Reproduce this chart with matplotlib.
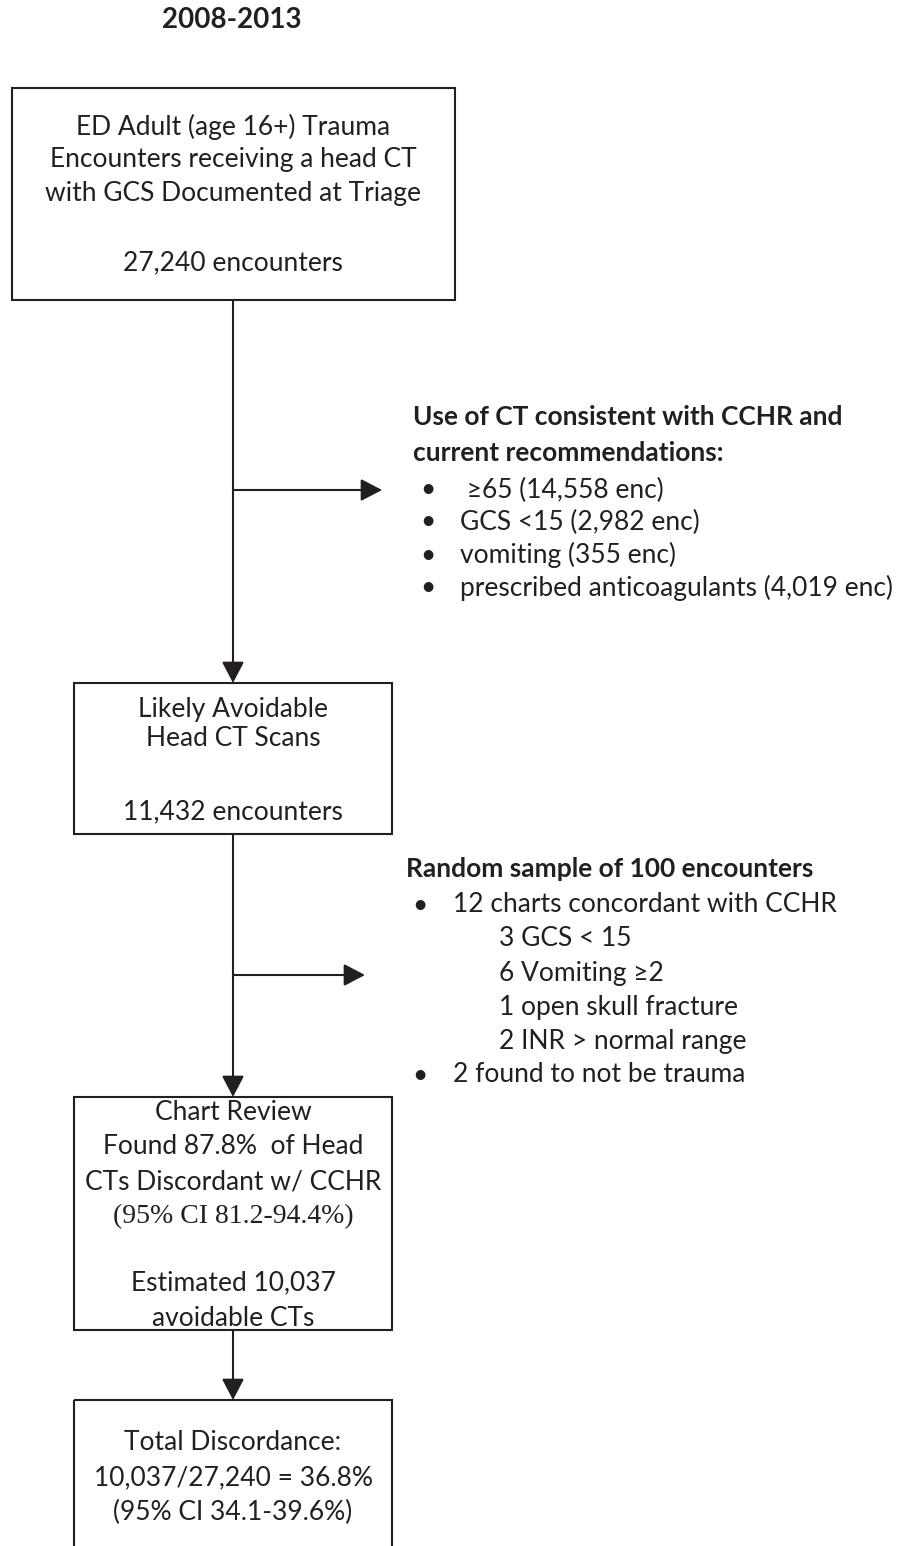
#!/usr/bin/env python3

import matplotlib
matplotlib.use("Agg")
import matplotlib.pyplot as plt
from matplotlib.patches import Rectangle

# ---- chart content ----
title = "2008-2013"

box1_lines = ["ED Adult (age 16+) Trauma",
              "Encounters receiving a head CT",
              "with GCS Documented at Triage",
              "",
              "27,240 encounters"]

box2_lines = ["Likely Avoidable", "Head CT Scans", "", "11,432 encounters"]

box3_lines = ["Chart Review", "Found 87.8%  of Head", "CTs Discordant w/ CCHR",
              "(95% CI 81.2-94.4%)", "", "Estimated 10,037", "avoidable CTs"]

box4_lines = ["Total Discordance:", "10,037/27,240 = 36.8%", "(95% CI 34.1-39.6%)"]

side1_head = ["Use of CT consistent with CCHR and", "current recommendations:"]
side1_items = [" \u226565 (14,558 enc)", "GCS <15 (2,982 enc)",
               "vomiting (355 enc)", "prescribed anticoagulants (4,019 enc)"]

side2_head = "Random sample of 100 encounters"
side2_items = [("\u2022", "12 charts concordant with CCHR"),
               ("", "3 GCS < 15"),
               ("", "6 Vomiting \u22652"),
               ("", "1 open skull fracture"),
               ("", "2 INR > normal range"),
               ("\u2022", "2 found to not be trauma")]

ink = '#231f20'
sans = 'Lato'
fs = 19

fig = plt.figure(figsize=(8.99, 15.46), dpi=100)
ax = fig.add_axes([0, 0, 1, 1])
ax.set_xlim(0, 899)
ax.set_ylim(1546, 0)
ax.axis('off')


def box(x0, y0, x1, y1):
    ax.add_patch(Rectangle((x0, y0), x1 - x0, y1 - y0, fill=False,
                           edgecolor=ink, linewidth=1.5))


def arrow(x0, y0, x1, y1):
    ax.annotate('', xy=(x1, y1), xytext=(x0, y0),
                arrowprops=dict(arrowstyle='-|>,head_length=13,head_width=6.8',
                                mutation_scale=1, color=ink, lw=1.5,
                                shrinkA=0, shrinkB=0))


def lines(strs, x, ys, **kw):
    for s, y in zip(strs, ys):
        if s:
            ax.text(x, y, s, color=ink, va='center', **kw)


# title
ax.text(232, 20, title, ha='center', va='center', fontsize=20,
        fontweight='bold', family=sans, color=ink)

# boxes
box(12, 88, 455, 300)
box(74, 683, 392, 834)
box(74, 1097, 392, 1330)
box(74, 1400, 392, 1570)

lines(box1_lines, 233, [127, 160, 193, 228, 263], ha='center', fontsize=fs, family=sans)
lines(box2_lines, 233, [710, 738, 775, 812], ha='center', fontsize=fs, family=sans)

b3y = [1112, 1147, 1182, 1217, 1250, 1283, 1318]
for i, (s, y) in enumerate(zip(box3_lines, b3y)):
    if not s:
        continue
    if s.startswith('(95%'):
        ax.text(233, y, s, ha='center', va='center', fontsize=20,
                family='Liberation Serif', color=ink)
    else:
        ax.text(233, y, s, ha='center', va='center', fontsize=fs,
                family=sans, color=ink)

lines(box4_lines, 233, [1443, 1478, 1512], ha='center', fontsize=fs, family=sans)

# connectors
arrow(233, 300, 233, 683)
arrow(233, 834, 233, 1097)
arrow(233, 1330, 233, 1400)
arrow(233, 490, 382, 490)
arrow(233, 975, 365, 975)

# side note 1
lines(side1_head, 413, [417, 453], ha='left', fontsize=fs, family=sans,
      fontweight='bold')
s1y = [490, 522, 555, 588]
for s, y in zip(side1_items, s1y):
    ax.text(420, y, "\u2022", ha='left', va='center', fontsize=fs, family=sans, color=ink)
    ax.text(460, y, s, ha='left', va='center', fontsize=fs, family=sans, color=ink)

# side note 2
ax.text(406, 869, side2_head, ha='left', va='center', fontsize=fs,
        family=sans, fontweight='bold', color=ink)
s2y = [905, 938, 973, 1008, 1042, 1075]
for (b, s), y in zip(side2_items, s2y):
    if b:
        ax.text(412, y, b, ha='left', va='center', fontsize=fs, family=sans, color=ink)
        ax.text(453, y, s, ha='left', va='center', fontsize=fs, family=sans, color=ink)
    else:
        ax.text(499, y, s, ha='left', va='center', fontsize=fs, family=sans, color=ink)

fig.savefig('out.png', dpi=100, facecolor='white')
